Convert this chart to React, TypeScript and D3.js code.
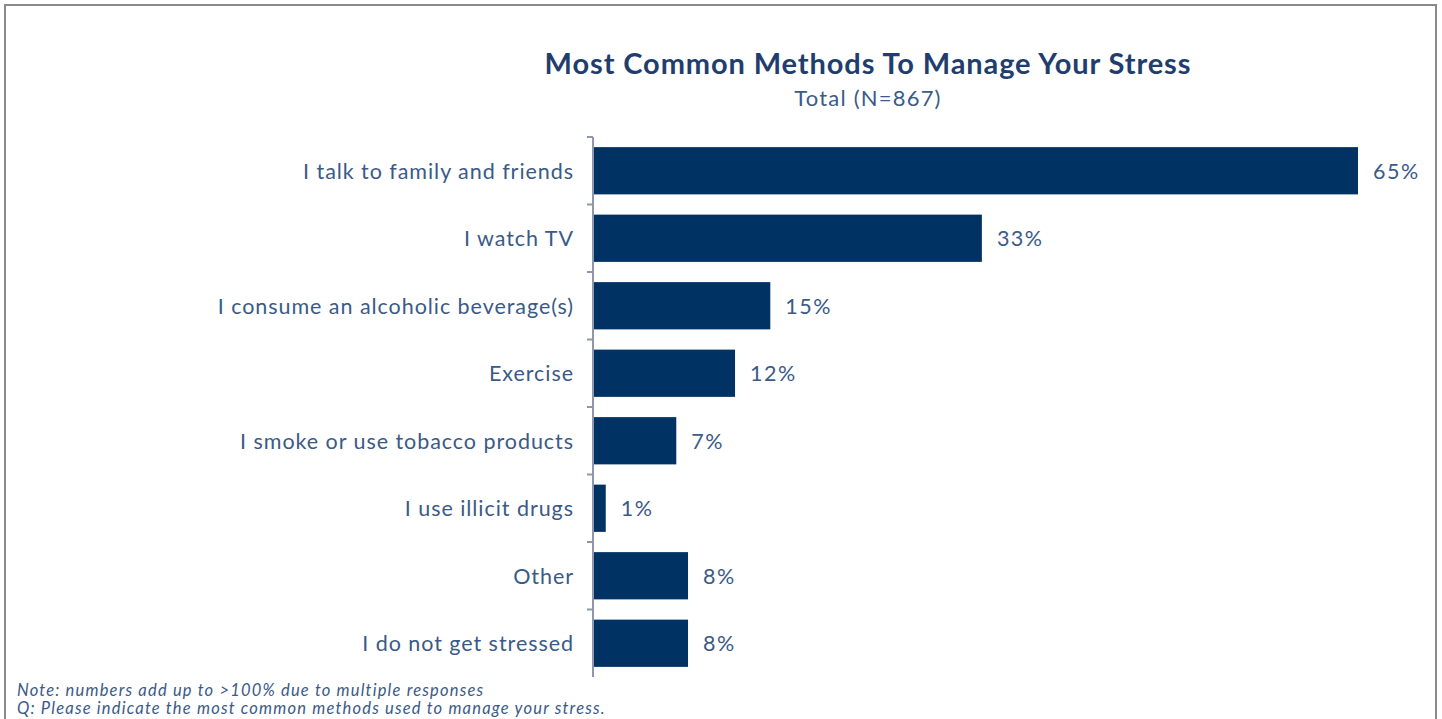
import React from "react";
import * as d3 from "d3";

const categories = [
  "I talk to family and friends",
  "I watch TV",
  "I consume an alcoholic beverage(s)",
  "Exercise",
  "I smoke or use tobacco products",
  "I use illicit drugs",
  "Other",
  "I do not get stressed",
];
const values = [65, 33, 15, 12, 7, 1, 8, 8];
const title = "Most Common Methods To Manage Your Stress";
const subtitle = "Total (N=867)";
const notes = [
  "Note: numbers add up to >100% due to multiple responses",
  "Q: Please indicate the most common methods used to manage your stress.",
];

const W = 1442;
const H = 719;
const FONT = "Lato, 'Open Sans', sans-serif";
const TEXT = "#3a5a88";
const BAR = "#003263";

export default function App() {
  const x = d3.scaleLinear().domain([0, 65]).range([594, 1358]);
  const y = d3.scaleBand<string>().domain(categories).range([137, 677]).paddingInner(0.3).paddingOuter(0.15);
  const axisX = 593;
  const boundaries = categories.map((_, i) => 137 + (i * 540) / categories.length);

  return (
    <svg width={W} height={H} style={{ position: "absolute", left: 0, top: 0, background: "#fff" }}>
      <rect x={5} y={5} width={1431} height={H + 20} fill="#fff" stroke="#8a8a8a" strokeWidth={2} />
      <text x={868} y={74} textAnchor="middle" fontFamily={FONT} fontWeight={700} fontSize={29} letterSpacing={0.9} fill="#1f3e6e">
        {title}
      </text>
      <text x={868} y={106} textAnchor="middle" fontFamily={FONT} fontSize={22} letterSpacing={1.2} fill={TEXT}>
        {subtitle}
      </text>
      {categories.map((c, i) => {
        const yy = y(c)!;
        const bh = y.bandwidth();
        return (
          <g key={c}>
            <rect x={x(0)} y={yy} width={x(values[i]) - x(0)} height={bh} fill={BAR} />
            <text x={574} y={yy + bh / 2 + 8} textAnchor="end" fontFamily={FONT} fontSize={21.5} letterSpacing={0.95} fill={TEXT}>
              {c}
            </text>
            <text x={x(values[i]) + 15} y={yy + bh / 2 + 8} fontFamily={FONT} fontSize={21.5} letterSpacing={1.5} fill={TEXT}>
              {values[i]}%
            </text>
          </g>
        );
      })}
      <line x1={axisX} x2={axisX} y1={137} y2={677} stroke="#8f97ad" strokeWidth={2} />
      {boundaries.map((b, i) => (
        <line key={i} x1={587} x2={axisX} y1={b} y2={b} stroke="#8f97ad" strokeWidth={2} />
      ))}
      {notes.map((n, i) => (
        <text key={i} x={17} y={696 + i * 18} fontFamily={FONT} fontStyle="italic" fontSize={16.5} letterSpacing={1.2} fill={TEXT}>
          {n}
        </text>
      ))}
    </svg>
  );
}
